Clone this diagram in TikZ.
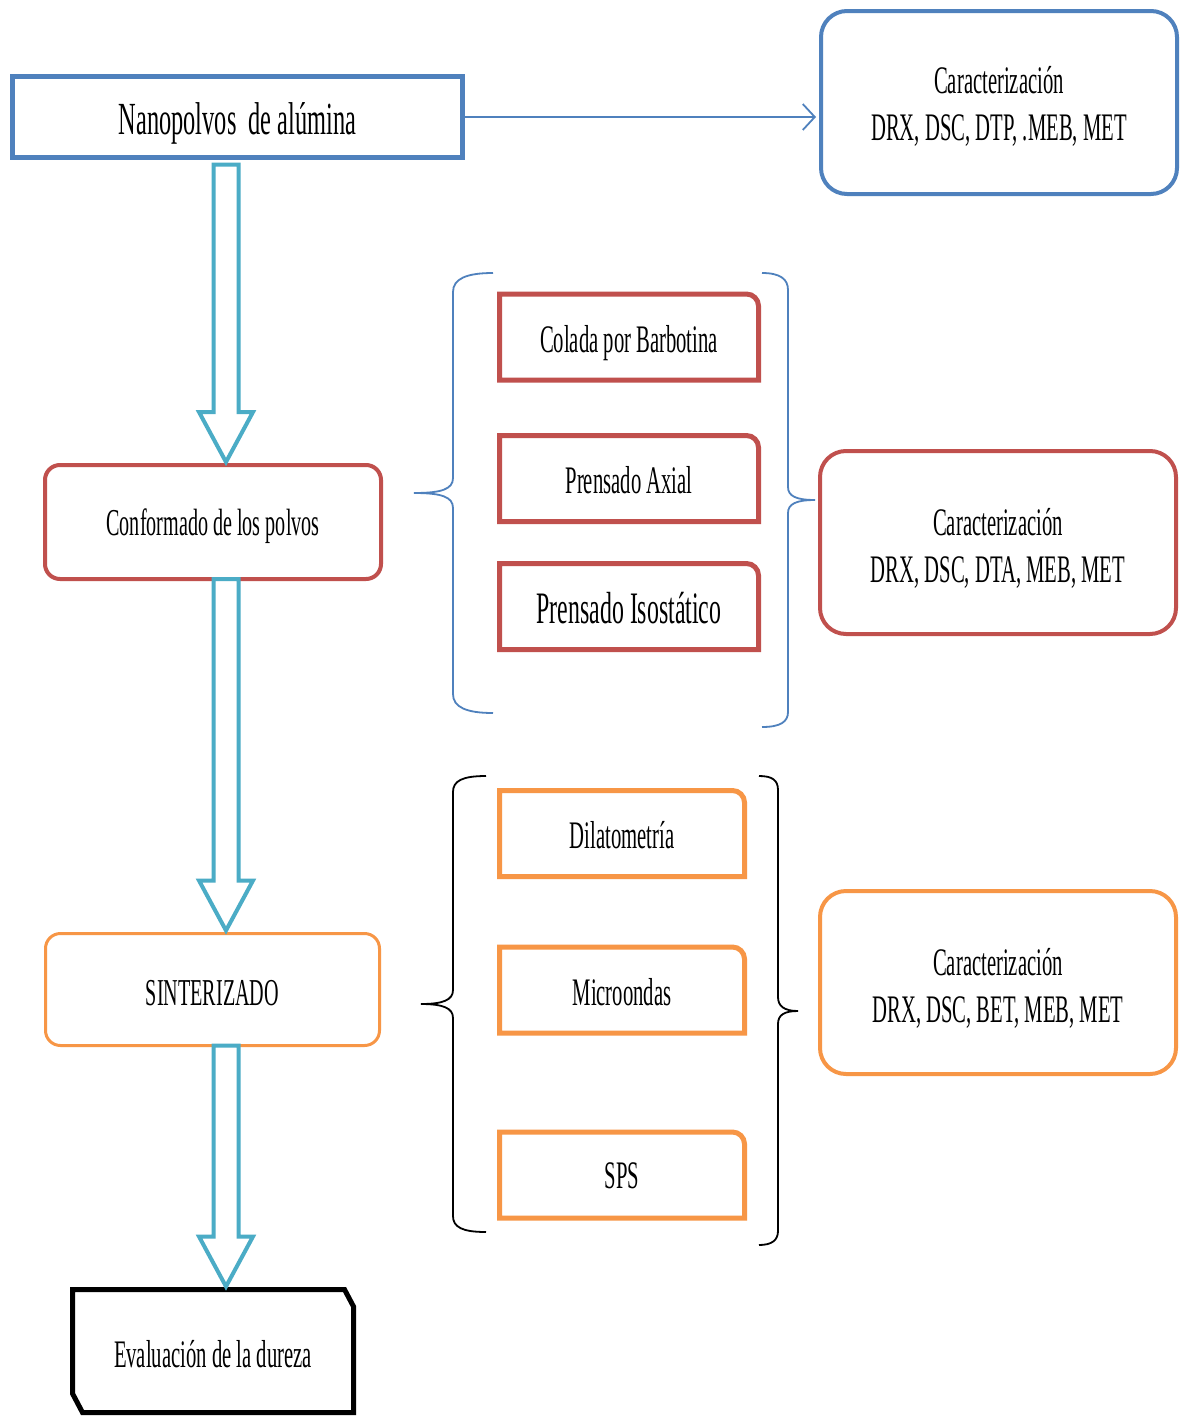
\documentclass[tikz,border=0pt]{standalone}
\usepackage{fontspec}
\setmainfont{Liberation Serif}[FakeStretch=0.53]
\usetikzlibrary{arrows.meta,calc}

\definecolor{accblue}{HTML}{4F81BD}
\definecolor{accred}{HTML}{C0504D}
\definecolor{accorange}{HTML}{F79646}
\definecolor{acccyan}{HTML}{4BACC6}

\tikzset{
  box/.style={inner sep=0pt, outer sep=0pt, align=center, text=black,
    text height=30pt, text depth=0pt},
  stage/.style={box, draw, rounded corners=15pt, line width=4pt},
  charbox/.style={box, draw, rounded corners=26pt, line width=4pt,
    minimum width=356pt, minimum height=183pt, text height=79pt,
    font=\fontsize{39}{47}\selectfont},
  method/.style={box, minimum width=259pt, minimum height=86pt,
    font=\fontsize{39}{47}\selectfont},
  hollow/.style={draw=acccyan, fill=white, line width=4pt, line join=miter},
  brace/.style={line width=1.8pt},
}

% box with a single rounded (top right) corner
\newcommand{\tabbox}[2]{%
  \draw[#2, line width=5pt] (#1.south west) -- (#1.north west)
    -- ($(#1.north east)+(-12,0)$) arc[start angle=90, end angle=0, radius=12pt]
    -- (#1.south east) -- cycle;}

% hollow block arrow pointing down from node #1 to node #2
\newcommand{\hollowdown}[3]{%
  \draw[hollow] ($(#1 -| ax)+(-12.5,#3)$) -- ($(#2 -| ax)+(-12.5,-53)$)
    -- ($(#2 -| ax)+(-27,-53)$) -- ($(#2 -| ax)+(0,-3)$)
    -- ($(#2 -| ax)+(27,-53)$) -- ($(#2 -| ax)+(12.5,-53)$)
    -- ($(#1 -| ax)+(12.5,#3)$) -- cycle;}

\begin{document}
\begin{tikzpicture}[x=1pt, y=-1pt]
\path[use as bounding box, fill=white] (0,0) rectangle (1179,1416);
\coordinate (ax) at (226,0);

% main process column
\node[box, draw=accblue, line width=5pt, minimum width=450pt, minimum height=81pt,
  text height=34pt, font=\fontsize{46}{50}\selectfont] (nano) at (237.5,117) {Nanopolvos\ \ de alúmina};
\node[stage, draw=accred, minimum width=336pt, minimum height=114pt, text height=27pt,
  font=\fontsize{38}{44}\selectfont] (conf) at (213,522) {Conformado de los polvos};
\node[stage, draw=accorange, line width=3pt, minimum width=334pt, minimum height=112pt,
  text height=32pt, font=\fontsize{38}{44}\selectfont] (sint) at (212.5,989.5) {SINTERIZADO};
\node[box, minimum width=281pt, minimum height=123pt, text height=32pt,
  font=\fontsize{39}{47}\selectfont] (eval) at (213,1351) {Evaluación de la dureza};
\draw[black, line width=5pt] (eval.north west) -- ($(eval.north east)+(-9,0)$)
  -- ($(eval.north east)+(0,17)$) -- (eval.south east)
  -- ($(eval.south west)+(10,0)$) -- ($(eval.south west)+(0,-19)$) -- cycle;

% characterisation boxes
\node[charbox, draw=accblue, text height=76pt] (car1) at (999,102.5) {Caracterización\\DRX, DSC, DTP, .MEB, MET};
\node[charbox, draw=accred] (car2) at (998,542.5) {Caracterización\\DRX, DSC, DTA, MEB, MET};
\node[charbox, draw=accorange] (car3) at (998,982.5) {Caracterización\\DRX, DSC, BET, MEB, MET};

% shaping methods
\node[method] (col) at (629,337) {Colada por Barbotina};
\node[method, text height=29pt] (axi) at (629,478.5) {Prensado Axial};
\node[method, text height=33pt, font=\fontsize{45}{50}\selectfont] (iso) at (629,606.5) {Prensado Isostático};
\tabbox{col}{accred}
\tabbox{axi}{accred}
\tabbox{iso}{accred}

% sintering methods
\node[method, minimum width=245pt, text height=29pt] (dil) at (622,833.5) {Dilatometría};
\node[method, minimum width=245pt] (mic) at (622,990) {Microondas};
\node[method, minimum width=245pt, text height=27pt] (sps) at (622,1175) {SPS};
\tabbox{dil}{accorange}
\tabbox{mic}{accorange}
\tabbox{sps}{accorange}

% braces around the method groups
\draw[brace, accblue] (493,273) .. controls (466,273) and (453,279) .. (453,292)
  -- (453,478) .. controls (453,489) and (442,493) .. (414,493)
  .. controls (442,493) and (453,497) .. (453,508)
  -- (453,694) .. controls (453,707) and (466,713) .. (493,713);
\draw[brace, accblue] (762,273) .. controls (780,273) and (788,279) .. (788,290)
  -- (788,487) .. controls (788,496) and (796,500) .. (815,500)
  .. controls (796,500) and (788,504) .. (788,513)
  -- (788,712) .. controls (788,722) and (780,727) .. (762,727);
\draw[brace, black] (486,776) .. controls (462,776) and (453,781) .. (453,792)
  -- (453,990) .. controls (453,1000) and (443,1004) .. (421,1004)
  .. controls (443,1004) and (453,1008) .. (453,1018)
  -- (453,1216) .. controls (453,1227) and (462,1232) .. (486,1232);
\draw[brace, black] (759,776) .. controls (772,776) and (778,780) .. (778,790)
  -- (778,997) .. controls (778,1006) and (784,1011) .. (798,1011)
  .. controls (784,1011) and (778,1015) .. (778,1024)
  -- (778,1231) .. controls (778,1240) and (772,1245) .. (759,1245);

% connectors
\draw[accblue, line width=1.8pt, -{Straight Barb[length=12pt,width=26pt]}, shorten >=5pt]
  (nano.east) -- (nano.east -| car1.west);
\hollowdown{nano.south}{conf.north}{7}
\hollowdown{conf.south}{sint.north}{0}
\hollowdown{sint.south}{eval.north}{0}
\end{tikzpicture}
\end{document}
